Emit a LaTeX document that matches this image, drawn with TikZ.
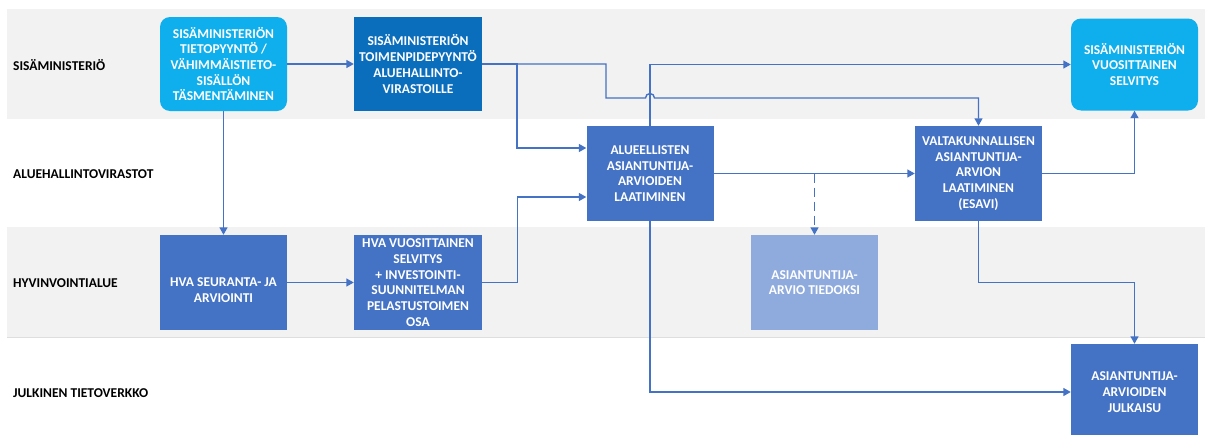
\documentclass[tikz,border=0pt]{standalone}
\usepackage{fontspec}
\setmainfont{Carlito}
\usetikzlibrary{arrows.meta}
\definecolor{lightblue}{HTML}{0FAEEC}
\definecolor{darkblue}{HTML}{0A6EBD}
\definecolor{midblue}{HTML}{4472C4}
\definecolor{paleblue}{HTML}{8FAADC}
\definecolor{lanegray}{HTML}{F2F2F2}
\definecolor{laneline}{HTML}{DEDEDE}
\definecolor{conn}{HTML}{4472C4}
\begin{document}
\begin{tikzpicture}[x=1pt,y=-1pt,
  boxbase/.style={text=white, align=center, inner sep=0pt, font=\bfseries\fontsize{13.5}{15.7}\selectfont},
  roundbox/.style={boxbase, fill=lightblue, rounded corners=10pt, minimum width=127pt, minimum height=94pt},
  darkbox/.style={boxbase, fill=darkblue, minimum width=128pt, minimum height=94pt},
  midbox/.style={boxbase, fill=midblue, minimum width=127pt, minimum height=95pt},
  palebox/.style={boxbase, fill=paleblue, minimum width=127pt, minimum height=95pt},
  boxtext/.style={text=white, align=center, inner sep=0pt, font=\bfseries\fontsize{13.5}{15.7}\selectfont},
  lanelabel/.style={anchor=west, inner sep=0pt, text=black, font=\bfseries\fontsize{13.5}{15.7}\selectfont},
  conarrow/.style={draw=conn, line width=1.4pt, -{Triangle[length=7.5pt,width=8pt]}},
  conline/.style={draw=conn, line width=1.4pt}
]
\useasboundingbox (0,0) rectangle (1205,434);
% lanes
\fill[lanegray] (7,9) rectangle (1205,119);
\fill[lanegray] (7,227) rectangle (1205,337);
\draw[laneline, line width=1pt] (7,337) -- (1205,337);

% lane labels
\node[lanelabel] (l1) at (13,65) {SISÄMINISTERIÖ};
\node[lanelabel] (l2) at (13,174) {ALUEHALLINTOVIRASTOT};
\node[lanelabel] (l3) at (13,283) {HYVINVOINTIALUE};
\node[lanelabel] (l4) at (13,393) {JULKINEN TIETOVERKKO};

% boxes
\node[roundbox] (b1) at (223.5,64) {SISÄMINISTERIÖN\\TIETOPYYNTÖ /\\VÄHIMMÄISTIETO-\\SISÄLLÖN\\TÄSMENTÄMINEN};
\node[darkbox] (b2) at (418,64) {SISÄMINISTERIÖN\\TOIMENPIDEPYYNTÖ\\ALUEHALLINTO-\\VIRASTOILLE};
\node[midbox] (b3) at (650,173.5) {ALUEELLISTEN\\ASIANTUNTIJA-\\ARVIOIDEN\\LAATIMINEN};
\node[midbox] (b4) at (978.5,173.5) {VALTAKUNNALLISEN\\ASIANTUNTIJA-\\ARVION\\LAATIMINEN\\(ESAVI)};
\node[roundbox, minimum height=92pt] (b5) at (1134.5,64.5) {SISÄMINISTERIÖN\\VUOSITTAINEN\\SELVITYS};
\node[midbox] (b6) at (223.5,282.5) {};
\node[boxtext] (b6t) at (223.5,290) {HVA SEURANTA- JA\\ARVIOINTI};
\node[midbox, minimum width=128pt] (b7) at (418,282.5) {HVA VUOSITTAINEN\\SELVITYS\\+ INVESTOINTI-\\SUUNNITELMAN\\PELASTUSTOIMEN\\OSA};
\node[palebox] (b8) at (814.5,282.5) {ASIANTUNTIJA-\\ARVIO TIEDOKSI};
\node[midbox, minimum height=96pt] (b9) at (1134.5,392) {ASIANTUNTIJA-\\ARVIOIDEN\\JULKAISU};

% connectors
\coordinate (j1) at (517,64);
\draw[conarrow] (b1.east) -- (b2.west);
\draw[conarrow] (b1.south) -- (b6.north);
\draw[conarrow] (b6.east) -- (b7.west);
\draw[conarrow] (b2.east) -- (j1) |- ([yshift=25.5pt]b3.west);
\draw[conarrow] (j1) -- (606,64) -- (606,98) -- (645.5,98)
   arc[start angle=180, end angle=0, radius=4.5pt] -- (b4.north |- 0,98) -- (b4.north);
\draw[conarrow] (b7.east) -- ++(35,0) |- ([yshift=-23.5pt]b3.west);
\draw[conarrow] (b3.north) |- (b5.west);
\draw[conarrow] (b3.east) -- (b4.west);
\draw[conarrow, dash pattern=on 9pt off 5pt] (b8.north |- b3.east) -- (b8.north);
\draw[conarrow] (b4.east) -| (b5.south);
\draw[conarrow] (b4.south) -- ++(0,61) -| (b9.north);
\draw[conarrow] (b3.south) |- (b9.west);
\end{tikzpicture}
\end{document}
